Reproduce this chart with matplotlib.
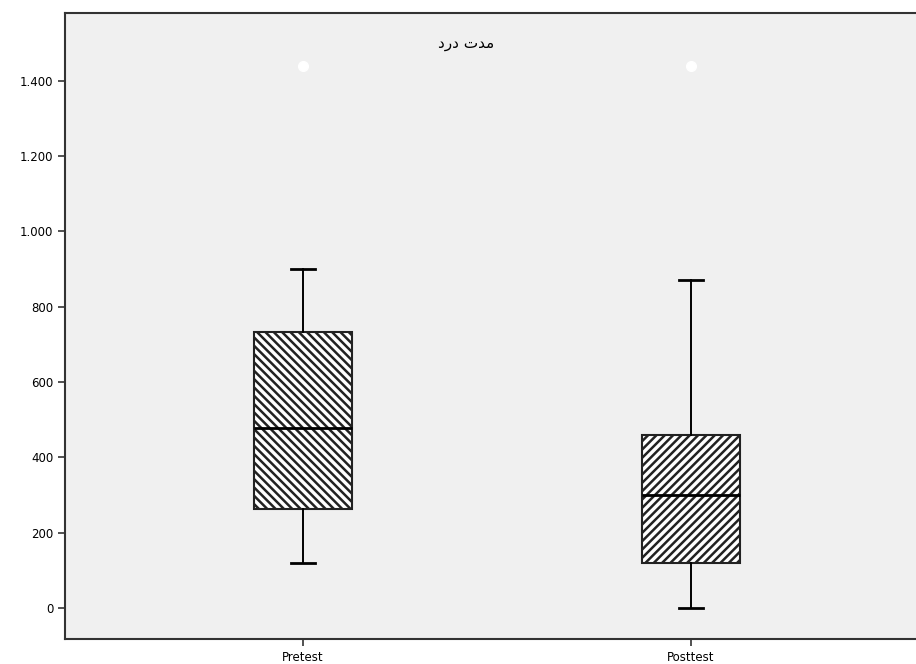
import matplotlib.pyplot as plt
from matplotlib.ticker import FuncFormatter

groups = ["Pretest", "Posttest"]
whislo = [120, 0]
q1 = [263, 120]
med = [478, 300]
q3 = [732, 460]
whishi = [900, 870]
fliers = [[1440], [1440]]
hatches = ["\\\\\\\\", "////"]
# title: "مدت درد" shaped by hand (presentation forms, visual order)
title = "\uFEA9\uFEAD\uFEA9 \uFE95\uFEAA\uFEE3"

stats = []
for i, g in enumerate(groups):
    stats.append(dict(label=g, whislo=whislo[i], q1=q1[i], med=med[i],
                      q3=q3[i], whishi=whishi[i], fliers=fliers[i]))

plt.rcParams['hatch.linewidth'] = 1.8
fig = plt.figure(figsize=(9.16, 6.64), dpi=100)
ax = fig.add_axes([0.071, 0.0377, 0.929, 0.9428])
ax.set_facecolor("#f0f0f0")

bp = ax.bxp(stats, positions=[1, 2], widths=0.253, patch_artist=True,
            boxprops=dict(facecolor="white", edgecolor="#222222", linewidth=1.5),
            medianprops=dict(color="black", linewidth=2),
            whiskerprops=dict(color="black", linewidth=1.4),
            capprops=dict(color="black", linewidth=2),
            flierprops=dict(marker="o", markerfacecolor="white",
                            markeredgecolor="white", markersize=7))
for box, h in zip(bp["boxes"], hatches):
    box.set_hatch(h)
# narrow caps, as in the original
for cap in bp["caps"]:
    x = cap.get_xdata()
    c = (x[0] + x[1]) / 2
    cap.set_xdata([c - 0.031, c + 0.031])

ax.set_xlim(0.387, 2.58)
ax.set_ylim(-82, 1580)
ax.set_yticks([0, 200, 400, 600, 800, 1000, 1200, 1400])
ax.yaxis.set_major_formatter(FuncFormatter(lambda v, p: f"{int(v):,}".replace(",", ".")))
ax.set_xticks([1, 2])
ax.set_xticklabels(groups)
ax.tick_params(labelsize=8.5, length=5, width=1.2, colors="#333333", labelcolor="black")

ax.spines["right"].set_visible(False)
for s in ["left", "bottom", "top"]:
    ax.spines[s].set_linewidth(1.5)
    ax.spines[s].set_color("#333333")

ax.text(1.42, 1500, title, fontsize=11, ha="center", va="center",
        family=["DejaVu Sans"])

fig.savefig("out.png", dpi=100)
